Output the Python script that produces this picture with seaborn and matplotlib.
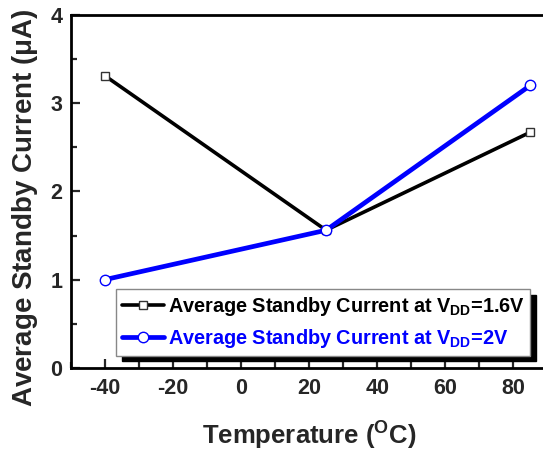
import matplotlib
matplotlib.use("Agg")
import matplotlib.pyplot as plt
import seaborn as sns
import pandas as pd
from matplotlib.ticker import MultipleLocator

temperature = [-40, 25, 85]
current_16v = [3.31, 1.56, 2.67]
current_2v = [1.0, 1.56, 3.2]
labels = [r"Average Standby Current at V$_{\mathbf{DD}}$=1.6V",
          r"Average Standby Current at V$_{\mathbf{DD}}$=2V"]

sns.set_style("ticks")
plt.rcParams["font.family"] = ["Liberation Sans", "DejaVu Sans"]
plt.rcParams["font.weight"] = "bold"
plt.rcParams["axes.unicode_minus"] = False
plt.rcParams["mathtext.fontset"] = "custom"
plt.rcParams["mathtext.rm"] = "Liberation Sans:bold"
plt.rcParams["mathtext.bf"] = "Liberation Sans:bold"
plt.rcParams["mathtext.it"] = "Liberation Sans:bold"

fig = plt.figure(figsize=(5.43, 4.54), dpi=100)
L, R, T, B = 70.7, 547.4, 14.7, 368.0
ax = fig.add_axes([L/543, 1-B/454, (R-L)/543, (B-T)/454])

df1 = pd.DataFrame({"T": temperature, "I": current_16v})
df2 = pd.DataFrame({"T": temperature, "I": current_2v})
sns.lineplot(data=df1, x="T", y="I", ax=ax, color="black", lw=2.6, marker="s",
             markersize=5.8, markerfacecolor="white", markeredgecolor="#333333",
             markeredgewidth=1.0, label=labels[0])
sns.lineplot(data=df2, x="T", y="I", ax=ax, color="#0000ff", lw=3.4, marker="o",
             markersize=7.5, markerfacecolor="white", markeredgecolor="#0000ff",
             markeredgewidth=1.0, label=labels[1])

ax.set_xlim(-50, 90)
ax.set_ylim(0, 4)
ax.xaxis.set_major_locator(MultipleLocator(20))
ax.xaxis.set_minor_locator(MultipleLocator(10))
ax.yaxis.set_major_locator(MultipleLocator(1))
ax.yaxis.set_minor_locator(MultipleLocator(0.5))
ax.tick_params(which="both", direction="in", width=1.6, labelsize=15.5)
ax.tick_params(which="major", length=6.5)
ax.tick_params(which="minor", length=4)
ax.tick_params(axis="x", pad=7)
ax.tick_params(axis="y", pad=6)
for lab in ax.get_xticklabels() + ax.get_yticklabels():
    lab.set_fontweight("bold")
for s in ax.spines.values():
    s.set_linewidth(2.0)
    s.set_color("black")

ax.set_xlabel(r"Temperature ($^{\mathbf{O}}$C)", fontsize=18.5, fontweight="bold", labelpad=15)
ax.set_ylabel(r"Average Standby Current ($\mathbf{\mu}$A)", fontsize=20, fontweight="bold")
ax.yaxis.set_label_coords((40 - L)/(R - L), (B - 207.5)/(B - T))

leg = ax.legend(loc="upper left", bbox_to_anchor=((116-L)/(R-L), (B-289)/(B-T)),
                frameon=True, fancybox=False, fontsize=14.3, handlelength=2.1,
                handletextpad=0.2, borderpad=0.3, labelspacing=0.45,
                shadow={"color": "black", "alpha": 1, "ox": 4, "oy": -4},
                edgecolor="#888888", framealpha=1, borderaxespad=0)
leg.get_frame().set_linewidth(1)
for t, c in zip(leg.get_texts(), ["black", "#0000ff"]):
    t.set_color(c)
    t.set_fontweight("bold")

fig.savefig("out.png", dpi=100)
